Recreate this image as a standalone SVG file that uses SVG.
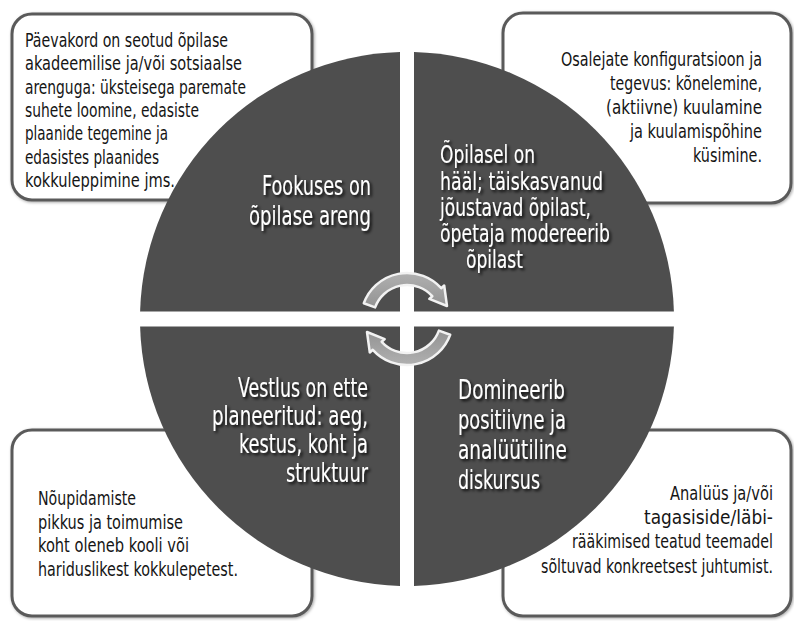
<svg xmlns="http://www.w3.org/2000/svg" width="794" height="621" viewBox="0 0 794 621">
  <defs>
    <filter id="boxShadow" x="-10%" y="-10%" width="120%" height="120%">
      <feDropShadow dx="1" dy="1" stdDeviation="1.5" flood-color="#000" flood-opacity="0.35"/>
    </filter>
    <filter id="textShadow" x="-10%" y="-30%" width="130%" height="160%">
      <feDropShadow dx="2" dy="2" stdDeviation="1.6" flood-color="#000" flood-opacity="0.9"/>
    </filter>
    <linearGradient id="arrowFill" x1="0" y1="0" x2="0" y2="1">
      <stop offset="0" stop-color="#b0b0b0"/>
      <stop offset="1" stop-color="#939393"/>
    </linearGradient>
  </defs>
  <style>
    .box { fill: #ffffff; stroke: #5a5a5a; stroke-width: 3; filter: url(#boxShadow); }
    .bt { font-family: "DejaVu Sans Condensed", "DejaVu Sans", "Liberation Sans", sans-serif; font-stretch: condensed; font-size: 19px; fill: #151515; }
    .quad { fill: #4e4e4e; }
    .qt { font-family: "DejaVu Sans Condensed", "DejaVu Sans", "Liberation Sans", sans-serif; font-stretch: condensed; font-size: 26px; fill: #ffffff; filter: url(#textShadow); }
    .tight { font-size: 24px; }
    .end { text-anchor: end; }
    .arrow { fill: url(#arrowFill); stroke: #f2f2f2; stroke-width: 2.5; stroke-linejoin: round; }
  </style>

  <rect width="794" height="621" fill="#ffffff"/>

  <!-- corner boxes (partly hidden behind the circle) -->
  <g id="box-top-left">
    <rect class="box" x="12" y="14" width="300" height="186" rx="20"/>
    <text class="bt" x="25" y="47" textLength="203" lengthAdjust="spacingAndGlyphs">Päevakord on seotud õpilase</text>
    <text class="bt" x="25" y="70.3" textLength="217" lengthAdjust="spacingAndGlyphs">akadeemilise ja/või sotsiaalse</text>
    <text class="bt" x="25" y="93.6" textLength="221" lengthAdjust="spacingAndGlyphs">arenguga: üksteisega paremate</text>
    <text class="bt" x="25" y="116.9" textLength="174" lengthAdjust="spacingAndGlyphs">suhete loomine, edasiste</text>
    <text class="bt" x="25" y="140.2" textLength="143" lengthAdjust="spacingAndGlyphs">plaanide tegemine ja</text>
    <text class="bt" x="25" y="163.5" textLength="134" lengthAdjust="spacingAndGlyphs">edasistes plaanides</text>
    <text class="bt" x="25" y="186.8" textLength="150" lengthAdjust="spacingAndGlyphs">kokkuleppimine jms.</text>
  </g>

  <g id="box-top-right">
    <rect class="box" x="503" y="13" width="288" height="190" rx="20"/>
    <text class="bt end" x="762" y="66" textLength="201" lengthAdjust="spacingAndGlyphs">Osalejate konfiguratsioon ja</text>
    <text class="bt end" x="762" y="90" textLength="152" lengthAdjust="spacingAndGlyphs">tegevus: kõnelemine,</text>
    <text class="bt end" x="762" y="114" textLength="156" lengthAdjust="spacingAndGlyphs">(aktiivne) kuulamine</text>
    <text class="bt end" x="762" y="138" textLength="132" lengthAdjust="spacingAndGlyphs">ja kuulamispõhine</text>
    <text class="bt end" x="762" y="162" textLength="69" lengthAdjust="spacingAndGlyphs">küsimine.</text>
  </g>

  <g id="box-bottom-left">
    <rect class="box" x="12" y="430" width="300" height="186" rx="20"/>
    <text class="bt" x="38" y="505" textLength="98" lengthAdjust="spacingAndGlyphs">Nõupidamiste</text>
    <text class="bt" x="38" y="528.5" textLength="145" lengthAdjust="spacingAndGlyphs">pikkus ja toimumise</text>
    <text class="bt" x="38" y="552" textLength="151" lengthAdjust="spacingAndGlyphs">koht oleneb kooli või</text>
    <text class="bt" x="38" y="575.5" textLength="200" lengthAdjust="spacingAndGlyphs">hariduslikest kokkulepetest.</text>
  </g>

  <g id="box-bottom-right">
    <rect class="box" x="503" y="430" width="288" height="186" rx="20"/>
    <text class="bt end" x="773" y="500" textLength="103" lengthAdjust="spacingAndGlyphs">Analüüs ja/või</text>
    <text class="bt end" x="773" y="524" textLength="129" lengthAdjust="spacingAndGlyphs">tagasiside/läbi-</text>
    <text class="bt end" x="773" y="548" textLength="201" lengthAdjust="spacingAndGlyphs">rääkimised teatud teemadel</text>
    <text class="bt end" x="773" y="573" textLength="232" lengthAdjust="spacingAndGlyphs">sõltuvad konkreetsest juhtumist.</text>
  </g>

  <!-- central circle split into four quadrants -->
  <g id="quad-top-left">
    <path class="quad" d="M400,311.5 L140.1,311.5 A267,267 0 0 1 400,52.1 Z"/>
    <text class="qt end" x="371" y="195" textLength="109" lengthAdjust="spacingAndGlyphs">Fookuses on</text>
    <text class="qt end" x="371" y="225" textLength="122" lengthAdjust="spacingAndGlyphs">õpilase areng</text>
  </g>

  <g id="quad-top-right">
    <path class="quad" d="M414,311.5 L414,52.1 A267,267 0 0 1 673.9,311.5 Z"/>
    <text class="qt tight" x="440" y="163" textLength="95" lengthAdjust="spacingAndGlyphs">Õpilasel on</text>
    <text class="qt tight" x="440" y="190" textLength="163" lengthAdjust="spacingAndGlyphs">hääl; täiskasvanud</text>
    <text class="qt tight" x="440" y="216" textLength="151" lengthAdjust="spacingAndGlyphs">jõustavad õpilast,</text>
    <text class="qt tight" x="440" y="242" textLength="170" lengthAdjust="spacingAndGlyphs">õpetaja modereerib</text>
    <text class="qt tight" x="466" y="268" textLength="57" lengthAdjust="spacingAndGlyphs">õpilast</text>
  </g>

  <g id="quad-bottom-left">
    <path class="quad" d="M400,326.5 L400,585.9 A267,267 0 0 1 140.1,326.5 Z"/>
    <text class="qt end" x="368" y="397" textLength="130" lengthAdjust="spacingAndGlyphs">Vestlus on ette</text>
    <text class="qt end" x="368" y="425" textLength="156" lengthAdjust="spacingAndGlyphs">planeeritud: aeg,</text>
    <text class="qt end" x="368" y="453" textLength="129" lengthAdjust="spacingAndGlyphs">kestus, koht ja</text>
    <text class="qt end" x="368" y="482" textLength="82" lengthAdjust="spacingAndGlyphs">struktuur</text>
  </g>

  <g id="quad-bottom-right">
    <path class="quad" d="M414,326.5 L673.9,326.5 A267,267 0 0 1 414,585.9 Z"/>
    <text class="qt" x="458" y="399" textLength="107" lengthAdjust="spacingAndGlyphs">Domineerib</text>
    <text class="qt" x="458" y="429" textLength="108" lengthAdjust="spacingAndGlyphs">positiivne ja</text>
    <text class="qt" x="458" y="459" textLength="109" lengthAdjust="spacingAndGlyphs">analüütiline</text>
    <text class="qt" x="458" y="489" textLength="82" lengthAdjust="spacingAndGlyphs">diskursus</text>
  </g>

  <!-- cycle arrows in the middle -->
  <g id="connectors">
    <path class="arrow" d="M363.8,303.3 A46,46 0 0 1 441.2,288.2 L444.2,285.5 L447,306 L429.3,298.9 L432.3,296.2 A34,34 0 0 0 375.1,307.4 Z"/>
    <path class="arrow" transform="rotate(180 407 319)" d="M363.8,303.3 A46,46 0 0 1 441.2,288.2 L444.2,285.5 L447,306 L429.3,298.9 L432.3,296.2 A34,34 0 0 0 375.1,307.4 Z"/>
  </g>
</svg>
